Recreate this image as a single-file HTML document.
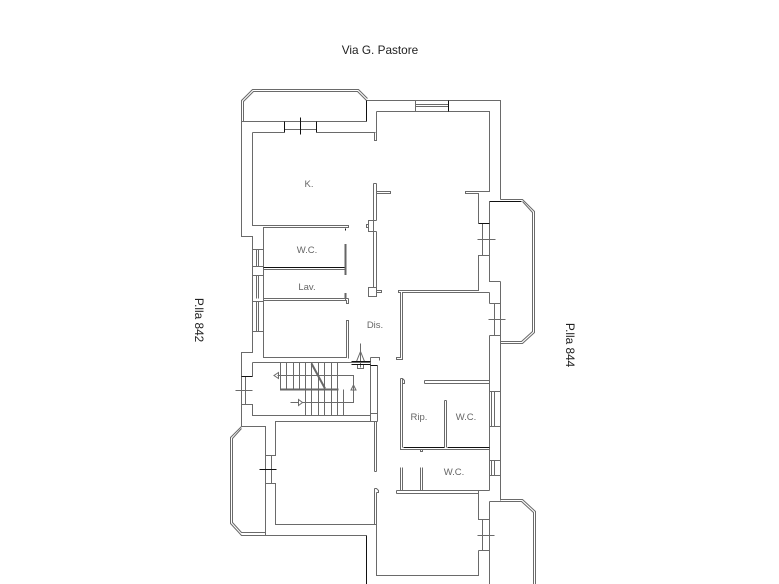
<!DOCTYPE html>
<html><head><meta charset="utf-8"><style>
html,body{margin:0;padding:0;background:#fff;width:779px;height:584px;overflow:hidden}
svg{display:block}
text{font-family:"Liberation Sans",sans-serif;font-size:9.5px;fill:#666;text-anchor:middle}
text.b{font-size:11.8px;fill:#222}
</style></head><body>
<svg width="779" height="584" viewBox="0 0 779 584" xmlns="http://www.w3.org/2000/svg">
<g fill="none" stroke="#6a6a6a" stroke-width="1">
<!-- top balcony -->
<path d="M241.5 121.5V100.5L252.5 89.5H358.5L367.5 98.5M243.5 121.5V101.5L253.5 91.5H357.5L366.5 100.5"/>
<path d="M241.5 121.5H366.5"/>
<!-- outer west upper -->
<path d="M241.5 121.5V236.5H252.5V352.5H241.5V376.5"/>
<path d="M252.5 132.5V225.5H348.5V227.5H263.5V357.5H346.5V320.5H348.5V358.5"/>
<path d="M252.5 132.5H284.5M316.5 132.5H375.5M284.5 129.5H316.5"/>
<path d="M366.5 100.5H500.5V199.5M376.5 111.5H489.5V191.5H465.5V193.5H478.5V223.5M376.5 111.5V132.5M374.5 132.5V140.5H376.5V132.5"/>
<path d="M415.5 100.5V111.5M415.5 104.5H448.5M415.5 106.5H448.5"/>
<!-- east balcony 1 -->
<path d="M500.5 199.5H522.5L534.5 211.5V332.5L522.5 343.5H500.5M522.5 201.5L532.5 212.5V331.5L521.5 341.5H500.5"/>
<path d="M489.5 201.5V281.5H500.5M489.5 303.5H500.5M489.5 292.5V303.5M489.5 292.5H402.5V359.5H396.5V357.5H400.5V292.5H398.5V290.5H478.5V255.5H489.5M482.5 223.5V255.5"/>
<path d="M477.5 239.5H495.5"/>
<path d="M500.5 281.5V500.5M494.5 303.5V335.5M488.5 319.5H505.5M489.5 335.5H500.5M489.5 335.5V490.5M489.5 391.5H500.5M489.5 426.5H500.5M491.5 391.5V426.5M494.5 391.5V426.5M489.5 460.5H500.5M489.5 475.5H500.5M491.5 460.5V475.5M494.5 460.5V475.5"/>
<!-- east lower rooms -->
<path d="M400.5 378.5V449.5H489.5M402.5 378.5V447.5M400.5 378.5H402.5L404.5 380.5V383.5H402.5"/>
<path d="M424.5 380.5H489.5M424.5 383.5H489.5M424.5 380.5V383.5M444.5 400.5V447.5M446.5 400.5V447.5M444.5 400.5H446.5"/>
<path d="M420.5 449.5V451.5H422.5V449.5"/>
<path d="M400.5 467.5V490.5M402.5 467.5V490.5M420.5 467.5V490.5M422.5 467.5V490.5M396.5 490.5H489.5M396.5 493.5H478.5M396.5 490.5V493.5"/>
<path d="M478.5 490.5V519.5H489.5M482.5 519.5V550.5M478.5 550.5H489.5M478.5 550.5V575.5H376.5V524.5H275.5V483.5H265.5V535.5H366.5"/>
<path d="M477.5 535.5H494.5"/>
<path d="M500.5 499.5H522.5L535.5 511.5V584M489.5 501.5H521.5L533.5 512.5V584M489.5 501.5V584"/>
<!-- inner central -->
<path d="M373.5 183.5V287.5M376.5 183.5V220.5M376.5 231.5V287.5M373.5 183.5H376.5M376.5 191.5H390.5V193.5H376.5"/>
<path d="M376.5 220.5H368.5V231.5H376.5M368.5 224.5H366.5V227.5H368.5"/>
<path d="M376.5 287.5H368.5V296.5H376.5V287.5M376.5 290.5H381.5V292.5H376.5"/>
<!-- windows west -->
<path d="M252.5 249.5H263.5M252.5 266.5H263.5M252.5 275.5H263.5M252.5 301.5H263.5M252.5 331.5H263.5M256.5 249.5V266.5M258.5 249.5V266.5M256.5 275.5V298.5M258.5 275.5V298.5M256.5 301.5V331.5M258.5 301.5V331.5"/>
<path d="M263.5 298.5H345.5M345.5 298.5V300.5M348.5 298.5V303.5H346.5V300.5H263.5M345.5 298.5H348.5"/>
<path d="M263.5 269.5H345.5"/>
<!-- west stairs -->
<path d="M241.5 376.5V426.5M245.5 376.5V404.5M241.5 404.5H252.5V415.5H370.5M252.5 362.5V376.5M252.5 362.5H370.5"/>
<path d="M235.5 390.5H252.5"/>
<path d="M370.5 357.5V421.5H275.5V455.5H265.5V426.5H241.5M377.5 365.5V421.5M370.5 357.5H379.5V360.5M370.5 413.5H377.5"/>
<!-- stair flights -->
<path d="M280.5 362.5V389.5M286.5 362.5V389.5M293.5 362.5V389.5M299.5 362.5V389.5M305.5 362.5V415.5M311.5 362.5V415.5M318.5 362.5V415.5M324.5 362.5V415.5M331.5 362.5V415.5M337.5 362.5V415.5M343.5 389.5V415.5"/>
<path d="M277.5 375.5H353.5V402.5H302.5M290.5 402.5H298.5"/>
<path d="M278.5 372.5V378.5L274 375.5ZM353.5 385L351 390H356ZM298.5 399.5V405.5L302.5 402.5Z"/>
<!-- arrow symbol -->
<path d="M360.5 343.5V367.5M360.5 351.5L356.5 361.5H364.5ZM357.5 364.5H363.5V368.5H357.5Z"/>
<!-- west balcony -->
<path d="M241.5 426.5L230.5 437.5V523.5L241.5 535.5H265.5M241.5 428.5L232.5 438.5V522.5L241.5 532.5H265.5"/>
<path d="M265.5 426.5V483.5M271.5 455.5V483.5M275.5 455.5V421.5M374.5 421.5V471.5M376.5 421.5V471.5M374.5 471.5H376.5"/>
<path d="M374.5 488.5V524.5M376.5 492.5V524.5M374.5 488.5H376.5L378.5 490.5V492.5H376.5"/>
<path d="M370.5 421.5H377.5"/>
</g>
<g fill="none" stroke="#111" stroke-width="1">
<path d="M366.5 100.5V121.5M284.5 121.5V132.5M316.5 121.5V132.5M300.5 117.5V134.5M448.5 100.5V111.5"/>
<path d="M489.5 201.5H521.5M478.5 223.5H489.5"/>
<path d="M263.5 267.5H345.5"/>
<path d="M403.5 447.5H444.5M447.5 447.5H489.5"/>
<path d="M241.5 376.5H252.5M259.5 469.5H276.5M366.5 535.5V584"/>
<path d="M351.5 361.5H370.5M351.5 364.5H370.5M370.5 365.5H377.5M345.5 228.5V230.5"/>
</g>
<g fill="none" stroke="#666" stroke-width="2">
<path d="M345.5 244V275M345.5 293V298M280 389.5H338.5"/>
<path d="M311.5 363.5L325 388.5"/>
</g>
<text class="b" x="380" y="54">Via G. Pastore</text>
<text x="309" y="187">K.</text>
<text x="307" y="253">W.C.</text>
<text x="307" y="290">Lav.</text>
<text x="375" y="328">Dis.</text>
<text x="419" y="420">Rip.</text>
<text x="466" y="420">W.C.</text>
<text x="454" y="475">W.C.</text>
<text class="b" transform="translate(195 320) rotate(90)">P.lla 842</text>
<text class="b" transform="translate(566 345) rotate(90)">P.lla 844</text>
</svg>
</body></html>
